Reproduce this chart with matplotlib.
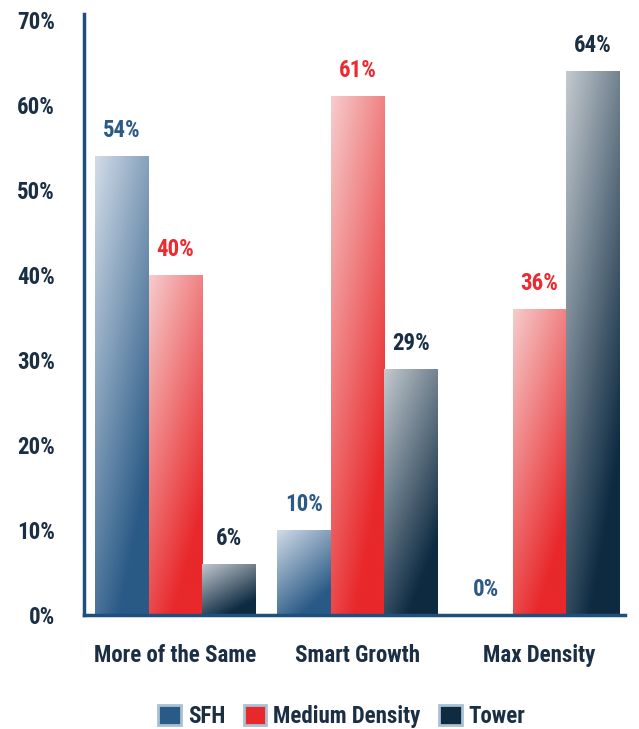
import numpy as np
import matplotlib
matplotlib.use("Agg")
import matplotlib.pyplot as plt
from matplotlib.colors import to_rgb
from matplotlib.patches import Patch

plt.rcParams['font.family'] = ['Roboto Condensed', 'Liberation Sans Narrow', 'Roboto', 'DejaVu Sans']
plt.rcParams['font.weight'] = 'bold'

categories = ['More of the Same', 'Smart Growth', 'Max Density']
series = ['SFH', 'Medium Density', 'Tower']
sfh = [54, 10, 0]
medium = [40, 61, 36]
tower = [6, 29, 64]
values = [sfh, medium, tower]

dark = ['#2a5a86', '#e8282b', '#0e2b42']
light = ['#d2dce8', '#f6cccc', '#c4cacf']
label_col = ['#2c5a86', '#ec2a2f', '#1b2f44']
navy = '#1b2f44'
spine = '#1f4f7c'
fs = 16.5

fig = plt.figure(figsize=(6.39, 7.29), dpi=100)
ax = fig.add_axes([0.1315, 0.156, 0.8465, 0.825])

x = np.arange(len(categories))
w = 0.294

def grad_img(c0, c1, n=100):
    yy, xx = np.mgrid[0:1:n * 1j, 0:1:n * 1j]
    t = np.clip(0.45 * xx + 0.8 * (1 - yy), 0, 1)
    a = np.array(to_rgb(c0))
    b = np.array(to_rgb(c1))
    return a + (b - a) * t[..., None]

for i in range(3):
    bars = ax.bar(x + (i - 1) * w, values[i], w, color=dark[i], linewidth=0, zorder=2)
    img = grad_img(light[i], dark[i])
    for b, v in zip(bars, values[i]):
        if v > 0:
            x0, y0 = b.get_x(), b.get_y()
            im = ax.imshow(img, origin='lower', aspect='auto', zorder=3,
                           extent=[x0, x0 + b.get_width(), y0, y0 + b.get_height()],
                           interpolation='bilinear')
            im.set_clip_path(b)
        ax.annotate('%d%%' % v, (b.get_x() + b.get_width() / 2, v),
                    xytext=(0, 10), textcoords='offset points',
                    ha='center', va='bottom', fontsize=fs, color=label_col[i],
                    fontweight='bold')

ax.set_xlim(-0.503, 2.47)
ax.set_ylim(0, 70.7)
ax.set_yticks(range(0, 71, 10), ['%d%%' % t for t in range(0, 71, 10)])
ax.set_xticks(x, categories)
ax.tick_params(axis='y', length=0, pad=21, labelsize=fs, labelcolor=navy)
ax.tick_params(axis='x', length=0, pad=21, labelsize=fs, labelcolor=navy)
for s in ['top', 'right']:
    ax.spines[s].set_visible(False)
for s in ['left', 'bottom']:
    ax.spines[s].set_color(spine)
    ax.spines[s].set_linewidth(2.5)
    ax.spines[s].set_zorder(4)

handles = [Patch(facecolor=dark[i], edgecolor='#a9c1d3', linewidth=2, label=series[i])
           for i in range(3)]
fig.legend(handles=handles, loc='lower center', bbox_to_anchor=(0.535, -0.027), ncol=3,
           frameon=False, fontsize=fs, handlelength=1.0, handleheight=1.0,
           handletextpad=0.3, columnspacing=0.8, labelcolor=navy)

fig.savefig('out.png', dpi=100)
